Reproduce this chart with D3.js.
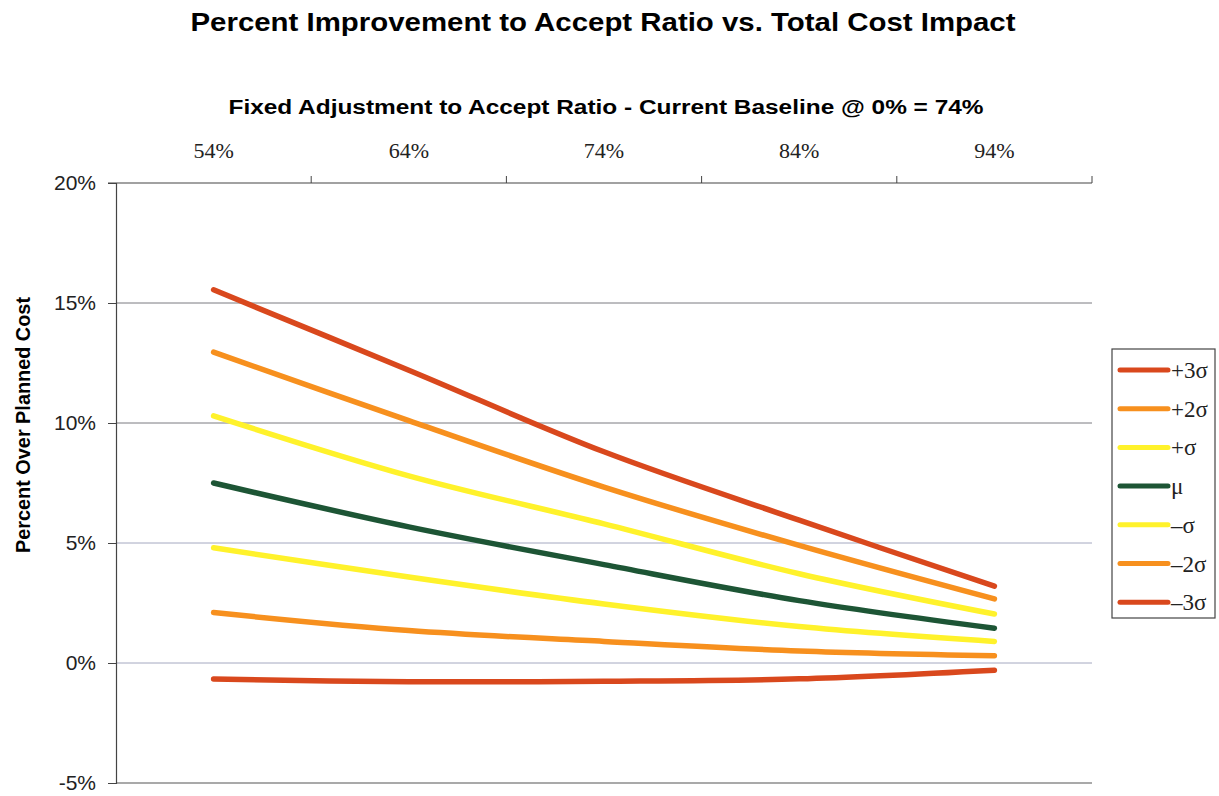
<!DOCTYPE html>
<html>
<head>
<meta charset="utf-8">
<script src="https://cdn.jsdelivr.net/npm/d3@7"></script>
<style>
  body { margin: 0; background: #fff; }
  svg { display: block; }
</style>
</head>
<body>
<svg width="1219" height="796"></svg>
<script>
// data
var categories = ['54%', '64%', '74%', '84%', '94%']
var seriesNames = ['+3\u03c3', '+2\u03c3', '+\u03c3', '\u03bc', '\u2013\u03c3', '\u20132\u03c3', '\u20133\u03c3']
var plus3 = [15.55, 12.2, 8.8, 5.95, 3.2]
var plus2 = [12.95, 10.1, 7.33, 4.9, 2.67]
var plus1 = [10.3, 7.8, 5.8, 3.72, 2.04]
var mean = [7.5, 5.67, 4.1, 2.6, 1.45]
var minus1 = [4.8, 3.58, 2.46, 1.52, 0.9]
var minus2 = [2.1, 1.35, 0.9, 0.5, 0.3]
var minus3 = [-0.67, -0.78, -0.76, -0.66, -0.3]
var yTicks = [-5, 0, 5, 10, 15, 20]

var colors = ['#d9481d', '#f7901e', '#fff22b', '#1d5535', '#fff22b', '#f7901e', '#d9481d']
var series = [plus3, plus2, plus1, mean, minus1, minus2, minus3]

var svg = d3.select('svg')
var pLeft = 116, pRight = 1092, pTop = 183, pBottom = 783

var xScale = d3.scaleBand().domain(categories).range([pLeft, pRight])
var yScale = d3.scaleLinear().domain([-5, 20]).range([pBottom, pTop])

// titles
svg.append('text')
   .attr('x', 603).attr('y', 31)
   .attr('text-anchor', 'middle')
   .attr('textLength', 825).attr('lengthAdjust', 'spacingAndGlyphs')
   .style('font', 'bold 25px "Liberation Sans", Arial, sans-serif')
   .text('Percent Improvement to Accept Ratio vs. Total Cost Impact')

svg.append('text')
   .attr('x', 606).attr('y', 114)
   .attr('text-anchor', 'middle')
   .attr('textLength', 755).attr('lengthAdjust', 'spacingAndGlyphs')
   .style('font', 'bold 20px "Liberation Sans", Arial, sans-serif')
   .text('Fixed Adjustment to Accept Ratio - Current Baseline @ 0% = 74%')

svg.append('text')
   .attr('transform', 'translate(30,425) rotate(-90)')
   .attr('text-anchor', 'middle')
   .attr('textLength', 256).attr('lengthAdjust', 'spacingAndGlyphs')
   .style('font', 'bold 21px "Liberation Sans", Arial, sans-serif')
   .text('Percent Over Planned Cost')

// gridlines
svg.selectAll('.grid')
   .data([0, 5, 10, 15])
   .enter()
   .append('line')
   .attr('class', 'grid')
   .attr('x1', pLeft).attr('x2', pRight)
   .attr('y1', d => yScale(d)).attr('y2', d => yScale(d))
   .attr('stroke', d => d < 10 ? '#a4a8c0' : '#7a7a80')
   .attr('stroke-width', 1)

svg.append('line')
   .attr('x1', pLeft).attr('x2', pRight)
   .attr('y1', yScale(-5)).attr('y2', yScale(-5))
   .attr('stroke', '#555').attr('stroke-width', 1.2)

// left axis
var yAxis = d3.axisLeft(yScale)
              .tickValues(yTicks)
              .tickSize(8)
              .tickFormat(d => d + '%')
var gy = svg.append('g').attr('transform', `translate(${pLeft},0)`).call(yAxis)
gy.select('.domain').attr('stroke', '#444').attr('stroke-width', 1.2)
gy.selectAll('.tick line').attr('stroke', '#444')
gy.selectAll('.tick text')
  .attr('x', -20)
  .style('font', '21px "Liberation Sans", Arial, sans-serif')
  .attr('fill', '#222')

// top axis: labels at band centres, ticks at band edges
var xAxis = d3.axisTop(xScale).tickSize(0).tickPadding(25)
var gx = svg.append('g').attr('transform', `translate(0,${pTop})`).call(xAxis)
gx.select('.domain').remove()
gx.selectAll('.tick text')
  .style('font', '22px "Liberation Serif", "Times New Roman", serif')
  .attr('fill', '#222')

svg.append('line')
   .attr('x1', pLeft - 8).attr('x2', pRight)
   .attr('y1', pTop).attr('y2', pTop)
   .attr('stroke', '#444').attr('stroke-width', 1.2)

var edges = categories.map(c => xScale(c)).slice(1).concat([pRight])
svg.selectAll('.xtick')
   .data(edges)
   .enter()
   .append('line')
   .attr('class', 'xtick')
   .attr('x1', d => d).attr('x2', d => d)
   .attr('y1', pTop - 7).attr('y2', pTop)
   .attr('stroke', '#444')

// series lines
var line = d3.line()
             .x((d, i) => xScale(categories[i]) + xScale.bandwidth() / 2)
             .y(d => yScale(d))
             .curve(d3.curveCatmullRom.alpha(0.5))

svg.selectAll('.series')
   .data(series)
   .enter()
   .append('path')
   .attr('class', 'series')
   .attr('d', line)
   .attr('fill', 'none')
   .attr('stroke', (d, i) => colors[i])
   .attr('stroke-width', 5.5)
   .attr('stroke-linecap', 'round')

// legend
svg.append('rect')
   .attr('x', 1112).attr('y', 349)
   .attr('width', 103).attr('height', 269)
   .attr('fill', '#fff')
   .attr('stroke', '#444').attr('stroke-width', 1.2)

var items = svg.selectAll('.legend-item')
               .data(seriesNames)
               .enter()
               .append('g')
               .attr('class', 'legend-item')
               .attr('transform', (d, i) => `translate(1120,${370 + i * 38.7})`)

items.append('line')
     .attr('x1', 0).attr('x2', 48)
     .attr('stroke', (d, i) => colors[i])
     .attr('stroke-width', 5)
     .attr('stroke-linecap', 'round')

items.append('text')
     .attr('x', 51).attr('y', 8)
     .style('font', '23px "Liberation Serif", "Times New Roman", serif')
     .attr('fill', '#222')
     .text(d => d)
</script>
</body>
</html>
